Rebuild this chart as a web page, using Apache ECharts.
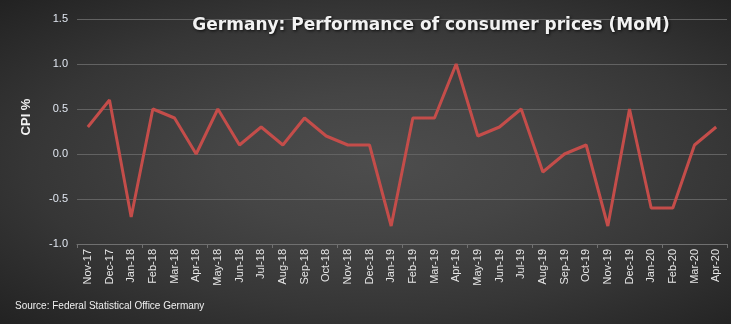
<!DOCTYPE html>
<html><head><meta charset="utf-8">
<script src="https://cdn.jsdelivr.net/npm/echarts@6/dist/echarts.min.js"></script>
<style>html,body{margin:0;padding:0;background:#2a2a2a}
#c{width:731px;height:324px;background:radial-gradient(ellipse farthest-corner at 52% 50%, #4d4d4d 0%, #454545 30%, #363636 65%, #222222 100%)}</style>
</head><body><div id="c"></div>
<script>
var categories = ["Nov-17","Dec-17","Jan-18","Feb-18","Mar-18","Apr-18","May-18","Jun-18","Jul-18","Aug-18","Sep-18","Oct-18","Nov-18","Dec-18","Jan-19","Feb-19","Mar-19","Apr-19","May-19","Jun-19","Jul-19","Aug-19","Sep-19","Oct-19","Nov-19","Dec-19","Jan-20","Feb-20","Mar-20","Apr-20"];
var cpiMoM = [0.3,0.6,-0.7,0.5,0.4,0.0,0.5,0.1,0.3,0.1,0.4,0.2,0.1,0.1,-0.8,0.4,0.4,1.0,0.2,0.3,0.5,-0.2,0.0,0.1,-0.8,0.5,-0.6,-0.6,0.1,0.3];
var titleText = "Germany: Performance of consumer prices (MoM)";
var sourceText = "Source: Federal Statistical Office Germany";
var yName = "CPI %";

var chart = echarts.init(document.getElementById('c'));
chart.setOption({
  animation: false,
  backgroundColor: 'transparent',
  title: [{
    text: titleText, left: 426, top: 12, textAlign: 'center',
    textStyle: {color: '#f2f2f2', fontFamily: 'DejaVu Sans', fontWeight: 'bold', fontSize: 17,
      textShadowColor: 'rgba(0,0,0,0.8)', textShadowBlur: 3, textShadowOffsetX: 1, textShadowOffsetY: 1}
  }, {
    text: sourceText, left: 10, top: 296,
    textStyle: {color: '#f0f0f0', fontFamily: 'Liberation Sans', fontWeight: 'normal', fontSize: 10}
  }],
  graphic: [{
    type: 'text', x: 26, y: 117, rotation: Math.PI / 2,
    style: {text: yName, fill: '#f2f2f2', font: 'bold 13px "Liberation Sans"', textAlign: 'center', textVerticalAlign: 'middle'}
  }],
  grid: {left: 77, right: 4, top: 19, bottom: 80, containLabel: false, outerBoundsMode: 'none'},
  xAxis: [{
    type: 'category', data: categories, boundaryGap: true,
    axisLine: {show: false}, axisTick: {show: false}, splitLine: {show: false},
    axisLabel: {rotate: 90, interval: 0, color: '#e6e6e6', fontSize: 11, fontFamily: 'Liberation Sans', margin: 5}
  }, {
    type: 'category', data: categories, boundaryGap: true, position: 'bottom',
    axisLine: {show: true, onZero: true, lineStyle: {color: '#707070', width: 1}},
    axisTick: {show: true, length: 4, lineStyle: {color: '#707070'}},
    axisLabel: {show: false}, splitLine: {show: false}
  }],
  yAxis: {
    type: 'value', min: -1.0, max: 1.5, interval: 0.5,
    axisLine: {show: false}, axisTick: {show: false},
    axisLabel: {color: '#e0e6f0', fontSize: 11, fontFamily: 'Liberation Sans', margin: 9,
      formatter: function(v){ return v.toFixed(1); }},
    splitLine: {lineStyle: {color: '#626262', width: 1}}
  },
  series: [{
    type: 'line', data: cpiMoM, xAxisIndex: 0, symbol: 'none',
    lineStyle: {color: '#c44d4a', width: 3}
  }]
});
</script></body></html>
